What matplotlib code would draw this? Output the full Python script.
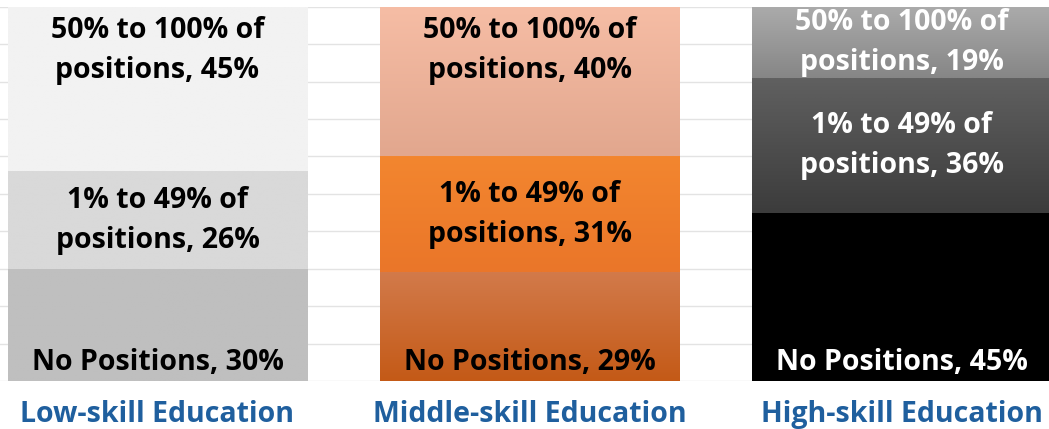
import matplotlib.pyplot as plt
import numpy as np
from matplotlib.colors import to_rgb

categories = ["Low-skill Education", "Middle-skill Education", "High-skill Education"]
no_positions = [30, 29, 45]
some_positions = [26, 31, 36]
most_positions = [45, 40, 19]

segment_names = ["No Positions", "1% to 49% of\npositions", "50% to 100% of\npositions"]

# (top colour, bottom colour) for each segment of each bar
shades = [
    [("#bfbfbf", "#bfbfbf"), ("#d9d9d9", "#d9d9d9"), ("#f2f2f2", "#f2f2f2")],
    [("#d27a4a", "#c45a17"), ("#f3862f", "#ea7629"), ("#f6bda5", "#e2a78e")],
    [("#000000", "#000000"), ("#606060", "#3c3c3c"), ("#ababab", "#868686")],
]
text_colors = ["black", "black", "white"]

plt.rcParams['font.family'] = ['Open Sans', 'DejaVu Sans']

fig = plt.figure(figsize=(10.49, 4.29), dpi=100)
ax = fig.add_axes([0, 0.112, 1, 0.872])

x = np.arange(len(categories))
width = 0.805
stacks = [no_positions, some_positions, most_positions]
fs = 20.5

bottom = np.zeros(len(categories))
for s, values in enumerate(stacks):
    bars = ax.bar(x, values, width, bottom=bottom, color="none", zorder=2)
    for i, rect in enumerate(bars):
        top_c, bot_c = shades[i][s]
        grad = np.linspace(to_rgb(top_c), to_rgb(bot_c), 64).reshape(64, 1, 3)
        x0, y0 = rect.get_x(), rect.get_y()
        ax.imshow(grad, extent=[x0, x0 + rect.get_width(), y0, y0 + rect.get_height()],
                  aspect="auto", zorder=2, interpolation="bilinear")

        label = f"{segment_names[s]}, {values[i]}%"
        if s == 0:
            ax.text(x[i], y0 + 1.0, label, ha="center", va="bottom",
                    fontsize=fs, fontweight="bold", color=text_colors[i], zorder=3)
        elif s == 1:
            ax.text(x[i], y0 + values[i] / 2, label, ha="center", va="center",
                    fontsize=fs, fontweight="bold", color=text_colors[i],
                    linespacing=1.5, zorder=3)
        else:
            # keep the top label near the top of tall segments
            ypos = max(y0 + values[i] / 2, 88.3)
            ax.text(x[i], ypos, label, ha="center", va="center",
                    fontsize=fs, fontweight="bold", color=text_colors[i],
                    linespacing=1.5, zorder=3)
    bottom += np.array(values)

ax.set_xlim(-0.423, 2.395)
ax.set_ylim(0, 100)
ax.set_yticks(np.arange(0, 101, 10))
ax.grid(axis="y", color="#e3e3e3", linewidth=1, zorder=0)
ax.set_axisbelow(True)
ax.tick_params(left=False, bottom=False, labelleft=False)
for spine in ax.spines.values():
    spine.set_visible(False)

ax.set_xticks(x)
ax.set_xticklabels(categories, fontsize=fs, fontweight="bold", color="#1f5f9e")
ax.tick_params(axis="x", pad=10)

fig.savefig("out.png", dpi=100)
